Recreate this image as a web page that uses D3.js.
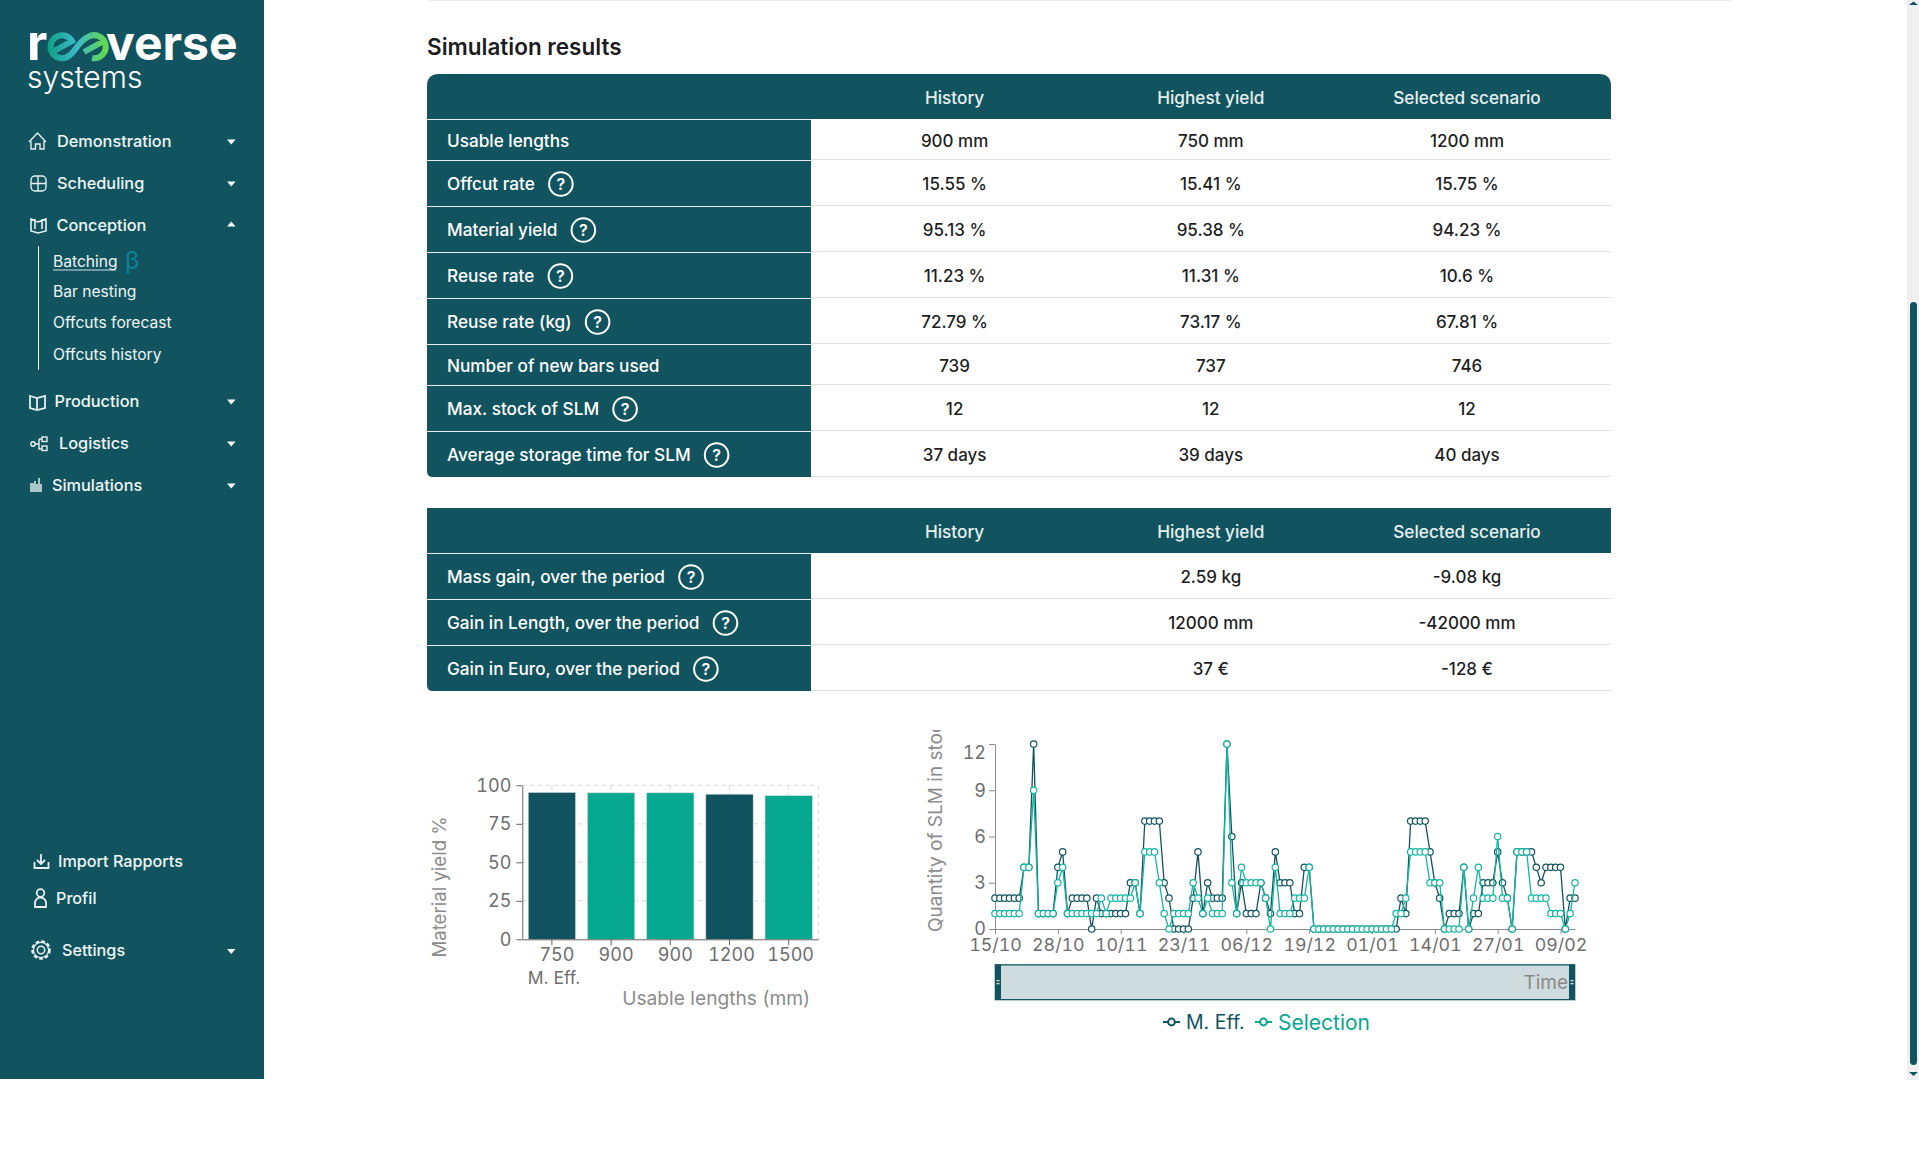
<!DOCTYPE html>
<html lang="en">
<head>
<meta charset="UTF-8">
<title>Simulation results</title>
<script src="https://d3js.org/d3.v7.min.js"></script>
<style>
  html, body { margin: 0; padding: 0; background: #fff; overflow: hidden; }
  svg { display: block; font-family: Inter, "Noto Sans", sans-serif; }
  .tick text { font-variant-numeric: tabular-nums; }
</style>
</head>
<body>
<div id="page"></div>
<script>
// first table
const rowLabels = ["Usable lengths", "Offcut rate", "Material yield", "Reuse rate", "Reuse rate (kg)", "Number of new bars used", "Max. stock of SLM", "Average storage time for SLM"];
const rowHelp = [false, true, true, true, true, false, true, true];
const historyCol = ["900 mm", "15.55 %", "95.13 %", "11.23 %", "72.79 %", "739", "12", "37 days"];
const highestCol = ["750 mm", "15.41 %", "95.38 %", "11.31 %", "73.17 %", "737", "12", "39 days"];
const selectedCol = ["1200 mm", "15.75 %", "94.23 %", "10.6 %", "67.81 %", "746", "12", "40 days"];
const columnTitles = ["History", "Highest yield", "Selected scenario"];

// second table
const gainLabels = ["Mass gain, over the period", "Gain in Length, over the period", "Gain in Euro, over the period"];
const gainHelp = [true, true, true];
const gainHistory = ["", "", ""];
const gainHighest = ["2.59 kg", "12000 mm", "37 €"];
const gainSelected = ["-9.08 kg", "-42000 mm", "-128 €"];

// bar chart
const barLengths = ["750", "900", "900", "1200", "1500"];
const barYield = [95.38, 95.13, 95.13, 94.23, 93.3];
const barIsEff = [true, false, false, true, false];
const barTicks = [0, 25, 50, 75, 100];

// line chart, one value a day
const stockEff = [
  2,2,2,2,2,2,4,4,12,1,
  1,1,1,4,5,1,2,2,2,2,
  0,2,1,1,1,1,1,1,3,3,
  1,7,7,7,7,3,2,0,0,0,
  0,2,5,1,3,2,2,2,12,6,
  1,3,1,1,1,3,2,1,5,3,
  3,3,1,1,4,4,0,0,0,0,
  0,0,0,0,0,0,0,0,0,0,
  0,0,0,0,2,1,7,7,7,7,
  5,3,2,0,1,1,1,4,0,1,
  1,3,3,3,5,3,2,0,5,5,
  5,5,4,3,4,4,4,4,0,2,
  2];
const stockSel = [
  1,1,1,1,1,1,4,4,9,1,
  1,1,1,3,4,1,1,1,1,1,
  1,1,2,1,2,2,2,2,2,3,
  1,5,5,5,3,1,0,1,1,1,
  1,3,2,1,2,1,1,1,12,3,
  1,4,3,3,3,3,2,0,4,1,
  1,1,2,2,2,4,0,0,0,0,
  0,0,0,0,0,0,0,0,0,0,
  0,0,0,1,1,2,5,5,5,5,
  3,3,3,0,0,0,0,4,0,2,
  4,2,2,2,6,2,2,0,5,5,
  5,2,2,2,2,1,1,1,0,1,
  3];
const dayTickIndex = [0, 13, 26, 39, 52, 65, 78, 91, 104, 117];
const dayTickLabels = ["15/10", "28/10", "10/11", "23/11", "06/12", "19/12", "01/01", "14/01", "27/01", "09/02"];
const stockTicks = [0, 3, 6, 9, 12];
const legendNames = ["M. Eff.", "Selection"];

// sidebar
const menuTop = ["Demonstration", "Scheduling", "Conception", "Production", "Logistics", "Simulations"];
const menuTopY = [141.5, 183.5, 225, 401.5, 443.5, 485.5];
const menuTopX = [57, 57, 56.5, 54.5, 59, 52];
const menuSub = ["Batching", "Bar nesting", "Offcuts forecast", "Offcuts history"];
const menuSubY = [261.5, 291.5, 322.5, 354.5];
const menuBottom = ["Import Rapports", "Profil", "Settings"];
const menuBottomY = [861, 898, 950];
const menuBottomX = [58, 56, 62];

const dark = "#11545f";
const teal = "#06a78f";
const tealLine = "#14b5a2";
const axisGrey = "#8c8c8c";
const tickText = "#6e6e6e";

const svg = d3.select("#page").append("svg").attr("width", 1919).attr("height", 1156);
const defs = svg.append("defs");

const logoGrad = defs.append("linearGradient").attr("id", "logoGrad").attr("gradientUnits", "userSpaceOnUse")
  .attr("x1", 47).attr("x2", 106).attr("y1", 46).attr("y2", 46);
logoGrad.append("stop").attr("offset", "0%").attr("stop-color", "#0f9f86");
logoGrad.append("stop").attr("offset", "50%").attr("stop-color", "#3bb8c8");
logoGrad.append("stop").attr("offset", "100%").attr("stop-color", "#66d84e");

svg.append("rect").attr("width", 1919).attr("height", 1156).attr("fill", "#fff");

/* ---------- sidebar ---------- */
const side = svg.append("g");
side.append("rect").attr("width", 264).attr("height", 1079).attr("fill", dark);

side.append("text").attr("x", 27).attr("y", 60).attr("font-size", 50).attr("font-weight", 700).attr("fill", "#fff").text("r");
side.append("path")
  .attr("d", "M54 51 L72 41 A11.5 11.5 0 1 0 70 55 C76 50 80 40 88 37 A11.5 11.5 0 1 1 92 58 M84 52 L102 42")
  .attr("fill", "none").attr("stroke", "url(#logoGrad)").attr("stroke-width", 6);
side.append("text").attr("x", 106).attr("y", 60).attr("font-size", 48).attr("font-weight", 700).attr("fill", "#fff").text("verse");
side.append("text").attr("x", 27).attr("y", 88).attr("font-size", 30).attr("font-weight", 300).attr("fill", "#fff").text("systems");

function menuText(x, y, label, size, weight) {
  return side.append("text").attr("x", x).attr("y", y).attr("dy", "0.36em")
    .attr("font-size", size).attr("font-weight", weight).attr("fill", "#eef5f5").text(label);
}
function caret(y, up) {
  const d = up ? `M227 ${y + 1.5} L235.5 ${y + 1.5} L231.25 ${y - 3.5} Z` : `M227 ${y - 2} L235.5 ${y - 2} L231.25 ${y + 3} Z`;
  side.append("path").attr("d", d).attr("fill", "#fff");
}
menuTop.forEach((m, i) => {
  menuText(menuTopX[i], menuTopY[i], m, 16.3, 500);
  caret(menuTopY[i], m === "Conception");
});
menuSub.forEach((m, i) => menuText(53, menuSubY[i], m, 15.6, 400));
menuBottom.forEach((m, i) => menuText(menuBottomX[i], menuBottomY[i], m, 16.2, 500));
caret(951, false);

side.append("line").attr("x1", 38.5).attr("x2", 38.5).attr("y1", 246).attr("y2", 370).attr("stroke", "#fff");
side.append("line").attr("x1", 53).attr("x2", 116).attr("y1", 270).attr("y2", 270).attr("stroke", "#cfe0e0");
side.append("text").attr("x", 125).attr("y", 269).attr("font-size", 24).attr("fill", "#0e8198").text("β");

// icons
const icon = side.append("g").attr("fill", "none").attr("stroke", "#e6f0f0").attr("stroke-width", 1.4);
icon.append("path").attr("d", "M29 142 L37.5 133 L46 142 M31 141 V149 H35.5 V144 H40 V149 H44 V141");
icon.append("rect").attr("x", 31).attr("y", 176).attr("width", 15).attr("height", 15).attr("rx", 4);
icon.append("path").attr("d", "M38 176 V191 M31 183.5 H46");
icon.append("path").attr("d", "M31 219 L38 222 L46 219 V231 L38 233 L31 231 Z M35 219 V229 M42 219 V229").attr("stroke-width", 1.6);
icon.append("path").attr("d", "M30 396 L37 398 L45 396 V408 L37 410 L30 408 Z M37 398 V410").attr("stroke-width", 1.8);
icon.append("circle").attr("cx", 33).attr("cy", 444).attr("r", 2.2);
icon.append("rect").attr("x", 42).attr("y", 437).attr("width", 5).attr("height", 4.5);
icon.append("rect").attr("x", 42).attr("y", 446).attr("width", 5).attr("height", 4.5);
icon.append("path").attr("d", "M35 444 H39 M39 439 V449 H42 M39 439 H42");
side.append("path").attr("d", "M30 492 V483 H34 V481 H36 V484 H38 V478 H40 V484 H42 V492 Z").attr("fill", "#a9c6c8");
icon.append("path").attr("d", "M41 854 V864 M37 860 L41 864 L45 860 M34.5 862 V868 H48.5 V862").attr("stroke-width", 1.8);
icon.append("circle").attr("cx", 40.5).attr("cy", 893).attr("r", 3.8).attr("stroke-width", 1.8);
icon.append("path").attr("d", "M35 907 V903 A5.5 5.5 0 0 1 46 903 V907 Z").attr("stroke-width", 1.8);
icon.append("circle").attr("cx", 41).attr("cy", 950).attr("r", 3.7).attr("stroke-width", 1.5);
icon.append("circle").attr("cx", 41).attr("cy", 950).attr("r", 8.6).attr("stroke-width", 2.4).attr("stroke-dasharray", "3.6 2.2");
icon.append("circle").attr("cx", 41).attr("cy", 950).attr("r", 7.6).attr("stroke-width", 1.2);

/* ---------- tables ---------- */
svg.append("line").attr("x1", 427).attr("x2", 1733).attr("y1", 0.5).attr("y2", 0.5).attr("stroke", "#eeeeee");
svg.append("text").attr("x", 427).attr("y", 55).attr("font-size", 22.5).attr("font-weight", 600).attr("fill", "#1d1d1f").text("Simulation results");

const tableLeft = 427, tableRight = 1611, labelRight = 811;
const colX = d3.scalePoint().domain(columnTitles).range([954.6, 1467]);

function drawTable(top, headH, labels, help, cols, roundTop) {
  const g = svg.append("g");
  const bottomRadius = 6;
  const heights = help.map(h => h ? 46 : 41);
  const ys = [top + headH, ...heights.map((h, i) => top + headH + d3.sum(heights.slice(0, i + 1)))];
  const tableBottom = ys[ys.length - 1];
  const r = roundTop ? 12 : 0;

  g.append("path").attr("fill", dark).attr("d",
    `M${tableLeft} ${top + headH} V${top + r} Q${tableLeft} ${top} ${tableLeft + r} ${top} H${tableRight - r} Q${tableRight} ${top} ${tableRight} ${top + r} V${top + headH} Z`);
  g.append("path").attr("fill", dark).attr("d",
    `M${tableLeft} ${top + headH} H${labelRight} V${tableBottom} H${tableLeft + bottomRadius} Q${tableLeft} ${tableBottom} ${tableLeft} ${tableBottom - bottomRadius} Z`);

  columnTitles.forEach(t => {
    g.append("text").attr("x", colX(t)).attr("y", top + headH / 2 + 1.5).attr("dy", "0.36em").attr("text-anchor", "middle")
      .attr("font-size", 17.2).attr("font-weight", 500).attr("fill", "#e6f0f0").text(t);
  });

  const rows = g.selectAll("g.row").data(labels).join("g").attr("class", "row")
    .attr("transform", (d, i) => `translate(0,${ys[i]})`);
  rows.append("line").attr("x1", tableLeft).attr("x2", labelRight).attr("y1", 0.5).attr("y2", 0.5).attr("stroke", "#e5ecec");
  rows.append("line").attr("x1", labelRight).attr("x2", tableRight)
    .attr("y1", (d, i) => heights[i] - 0.5).attr("y2", (d, i) => heights[i] - 0.5).attr("stroke", "#e2e2e2");

  rows.append("text").attr("class", "lab").attr("x", 447).attr("y", (d, i) => heights[i] / 2 + 1).attr("dy", "0.36em")
    .attr("font-size", 17.2).attr("font-weight", 500).attr("fill", "#fff").text(d => d);

  rows.each(function (d, i) {
    const row = d3.select(this);
    if (help[i]) {
      const w = row.select("text.lab").node().getComputedTextLength();
      const cx = 447 + w + 26, cy = heights[i] / 2 + 1;
      row.append("circle").attr("cx", cx).attr("cy", cy).attr("r", 11.8).attr("fill", "none").attr("stroke", "#fff").attr("stroke-width", 2);
      row.append("text").attr("x", cx).attr("y", cy).attr("dy", "0.36em").attr("text-anchor", "middle")
        .attr("font-size", 16).attr("font-weight", 600).attr("fill", "#fff").text("?");
    }
    cols.forEach((col, c) => {
      if (col[i] === "") return;
      row.append("text").attr("x", colX(columnTitles[c])).attr("y", heights[i] / 2 + 1).attr("dy", "0.36em").attr("text-anchor", "middle")
        .attr("font-size", 17).attr("font-weight", 500).attr("fill", "#1f1f1f").text(col[i]);
    });
  });
}
drawTable(74, 45, rowLabels, rowHelp, [historyCol, highestCol, selectedCol], true);
drawTable(508, 45, gainLabels, gainHelp, [gainHistory, gainHighest, gainSelected], false);

/* ---------- bar chart ---------- */
const barG = svg.append("g");
const xBar = d3.scaleBand().domain(d3.range(barLengths.length)).range([522.3, 818.3]).paddingInner(0.2).paddingOuter(0.1);
const yBar = d3.scaleLinear().domain([0, 100]).range([939.3, 785.3]);

// dashed grid
barG.selectAll("line.gy").data(barTicks.slice(1)).join("line").attr("class", "gy")
  .attr("x1", xBar.range()[0]).attr("x2", 818.3).attr("y1", d => yBar(d)).attr("y2", d => yBar(d))
  .attr("stroke", "#d8d8d8").attr("stroke-dasharray", "4 4");
barG.selectAll("line.gx").data(d3.range(barLengths.length)).join("line").attr("class", "gx")
  .attr("x1", i => xBar(i) + xBar.bandwidth() / 2).attr("x2", i => xBar(i) + xBar.bandwidth() / 2)
  .attr("y1", yBar(100)).attr("y2", yBar(0)).attr("stroke", "#d8d8d8").attr("stroke-dasharray", "4 4");
barG.append("line").attr("x1", 818.3).attr("x2", 818.3).attr("y1", yBar(100)).attr("y2", yBar(0))
  .attr("stroke", "#d8d8d8").attr("stroke-dasharray", "4 4");

barG.selectAll("rect.bar").data(barYield).join("rect").attr("class", "bar")
  .attr("x", (d, i) => xBar(i)).attr("width", xBar.bandwidth())
  .attr("y", d => yBar(d)).attr("height", d => yBar(0) - yBar(d))
  .attr("fill", (d, i) => barIsEff[i] ? dark : teal)
  .attr("stroke", "#d3e2e3").attr("stroke-width", 0.6);

const yBarAxis = d3.axisLeft(yBar).tickValues(barTicks).tickSize(6).tickSizeOuter(0).tickPadding(5);
const xBarAxis = d3.axisBottom(xBar).tickFormat(i => barLengths[i]).tickSize(6).tickSizeOuter(0).tickPadding(3);
function styleAxis(g, color, size) {
  g.selectAll("path.domain").attr("stroke", color);
  g.selectAll(".tick line").attr("stroke", color);
  g.selectAll(".tick text").attr("fill", tickText).attr("font-size", size).attr("font-family", "Inter, sans-serif");
}
const yBarG = barG.append("g").attr("transform", "translate(522.3,0)").call(yBarAxis);
styleAxis(yBarG, "#666", 18);
const xBarG = barG.append("g").attr("transform", `translate(0,${yBar(0)})`).call(xBarAxis);
styleAxis(xBarG, "#666", 18);
xBarG.selectAll(".tick text").attr("dx", i => barLengths[i].length === 3 ? 5 : 2);

barG.append("text").attr("x", 554).attr("y", 984).attr("text-anchor", "middle").attr("font-size", 17.5).attr("fill", tickText).text("M. Eff.");
barG.append("text").attr("x", 810).attr("y", 1005).attr("text-anchor", "end").attr("font-size", 19.2).attr("fill", axisGrey).text("Usable lengths (mm)");
barG.append("text").attr("transform", "translate(446,887) rotate(-90)").attr("text-anchor", "middle")
  .attr("font-size", 18.6).attr("fill", axisGrey).text("Material yield %");

/* ---------- line chart ---------- */
const lineG = svg.append("g");
const xDay = d3.scaleLinear().domain([0, stockEff.length - 1]).range([995, 1575]);
const yStock = d3.scaleLinear().domain([0, 12]).range([929, 744]);

defs.append("clipPath").attr("id", "nameClip").append("rect").attr("x", 915).attr("y", 730).attr("width", 40).attr("height", 210);
lineG.append("g").attr("clip-path", "url(#nameClip)").append("text")
  .attr("transform", "translate(942,932) rotate(-90)").attr("font-size", 19).attr("fill", axisGrey).text("Quantity of SLM in stock");

const yStockG = lineG.append("g").attr("transform", "translate(995,0)")
  .call(d3.axisLeft(yStock).tickValues(stockTicks).tickSize(6).tickSizeOuter(0).tickPadding(3));
styleAxis(yStockG, axisGrey, 18);
// the top label sits below its tick, as in the reference
yStockG.selectAll(".tick text").filter(d => d === 12).attr("dy", "0.8em");
const xDayG = lineG.append("g").attr("transform", "translate(0,929)")
  .call(d3.axisBottom(xDay).tickValues(dayTickIndex).tickFormat((d, i) => dayTickLabels[i]).tickSize(5).tickSizeOuter(0).tickPadding(4));
styleAxis(xDayG, axisGrey, 17.8);

const lineGen = d3.line().x((d, i) => xDay(i)).y(d => yStock(d));
function drawSeries(values, color) {
  const g = lineG.append("g");
  g.append("path").datum(values).attr("d", lineGen).attr("fill", "none").attr("stroke", color).attr("stroke-width", 1.3);
  g.selectAll("circle").data(values).join("circle")
    .attr("cx", (d, i) => xDay(i)).attr("cy", d => yStock(d)).attr("r", 3.2)
    .attr("fill", "#fff").attr("stroke", color).attr("stroke-width", 1.2);
}
drawSeries(stockEff, dark);
drawSeries(stockSel, tealLine);

// slider under the plot
const sliderTop = 964.5, sliderH = 35.5;
const slider = lineG.append("g");
slider.append("rect").attr("x", xDay.range()[0]).attr("y", sliderTop).attr("width", 580).attr("height", sliderH)
  .attr("fill", "#cfdcdd").attr("stroke", "#6f9aa0").attr("stroke-width", 1);
slider.append("line").attr("x1", 995).attr("x2", 1575).attr("y1", sliderTop + 0.5).attr("y2", sliderTop + 0.5).attr("stroke", dark);
slider.append("line").attr("x1", 995).attr("x2", 1575).attr("y1", sliderTop + sliderH - 0.5).attr("y2", sliderTop + sliderH - 0.5).attr("stroke", dark);
[995, 1569].forEach(x => {
  slider.append("rect").attr("x", x).attr("y", sliderTop).attr("width", 6).attr("height", sliderH).attr("fill", dark);
  slider.append("rect").attr("x", x + 1.5).attr("y", sliderTop + 15.5).attr("width", 3).attr("height", 1.3).attr("fill", "#d7e3e4");
  slider.append("rect").attr("x", x + 1.5).attr("y", sliderTop + 18.5).attr("width", 3).attr("height", 1.3).attr("fill", "#d7e3e4");
});
slider.append("text").attr("x", 1568).attr("y", sliderTop + sliderH / 2).attr("dy", "0.36em").attr("text-anchor", "end")
  .attr("font-size", 19).attr("fill", "#8a8a8a").text("Time");

// legend
const legendX = [1163, 1255];
legendNames.forEach((name, i) => {
  const color = i === 0 ? dark : teal;
  const g = lineG.append("g").attr("transform", `translate(${legendX[i]},1022)`);
  g.append("line").attr("x1", 0).attr("x2", 17).attr("stroke", color).attr("stroke-width", 2);
  g.append("circle").attr("cx", 8.5).attr("r", 3.4).attr("fill", "#fff").attr("stroke", color).attr("stroke-width", 2);
  g.append("text").attr("x", 23).attr("dy", "0.36em").attr("font-size", i === 0 ? 19.5 : 21).attr("fill", color).text(name);
});

/* ---------- scrollbar ---------- */
const bar = svg.append("g");
bar.append("rect").attr("x", 1907).attr("y", 0).attr("width", 12).attr("height", 1080).attr("fill", "#f0f0f0");
bar.append("rect").attr("x", 1910).attr("y", 302).attr("width", 7).attr("height", 763).attr("rx", 3.5).attr("fill", dark);
bar.append("path").attr("d", "M1909 5 H1918 L1913.5 1.5 Z").attr("fill", dark);
bar.append("path").attr("d", "M1909 1072 H1918 L1913.5 1076 Z").attr("fill", dark);
</script>
</body>
</html>
